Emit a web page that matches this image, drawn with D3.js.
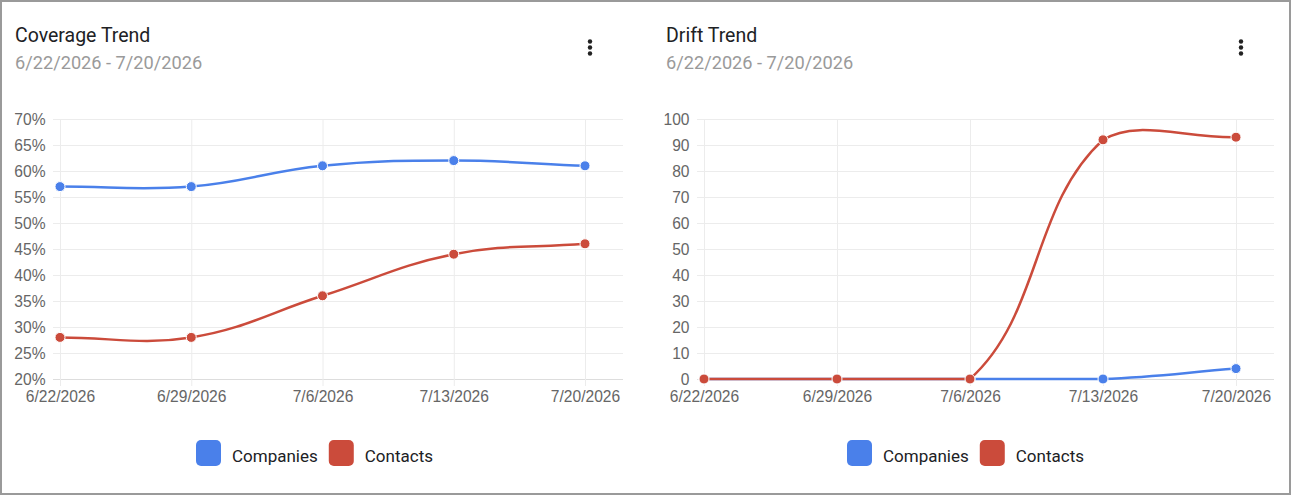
<!DOCTYPE html>
<html>
<head>
<meta charset="utf-8">
<script src="https://cdn.jsdelivr.net/npm/d3@7"></script>
<style>
  html, body { margin: 0; padding: 0; background: #fff; }
  svg { display: block; }
</style>
</head>
<body>
<svg id="chart" width="1292" height="496"></svg>
<script>
const dates = ["6/22/2026", "6/29/2026", "7/6/2026", "7/13/2026", "7/20/2026"];
const coverageCompanies = [57, 57, 61, 62, 61];
const coverageContacts = [28, 28, 36, 44, 46];
const driftCompanies = [0, 0, 0, 0, 4];
const driftContacts = [0, 0, 0, 92, 93];
const coverageTicks = [20, 25, 30, 35, 40, 45, 50, 55, 60, 65, 70];
const driftTicks = [0, 10, 20, 30, 40, 50, 60, 70, 80, 90, 100];
const seriesNames = ["Companies", "Contacts"];
const seriesColors = ["#4a80ea", "#cb4b3b"];

const svg = d3.select("#chart");
svg.append("rect").attr("x", 1).attr("y", 1).attr("width", 1289).attr("height", 493)
  .attr("fill", "#fff").attr("stroke", "#9a9a9a").attr("stroke-width", 2);

const tickFont = "'Liberation Sans', Arial, sans-serif";
const uiFont = "Roboto, 'Noto Sans', sans-serif";

// Chart.js-like spline with tension 0.4, control points capped to chart area
function splinePath(pts, area) {
  const t = 0.4;
  const cps = pts.map((cur, i) => {
    const prev = pts[i - 1] || cur, next = pts[i + 1] || cur;
    const d01 = Math.hypot(cur[0] - prev[0], cur[1] - prev[1]);
    const d12 = Math.hypot(next[0] - cur[0], next[1] - cur[1]);
    let s01 = d01 / (d01 + d12), s12 = d12 / (d01 + d12);
    if (isNaN(s01)) s01 = 0; if (isNaN(s12)) s12 = 0;
    const fa = t * s01, fb = t * s12;
    const cap = (p) => [Math.max(area.left, Math.min(area.right, p[0])), Math.max(area.top, Math.min(area.bottom, p[1]))];
    return {
      prev: cap([cur[0] - fa * (next[0] - prev[0]), cur[1] - fa * (next[1] - prev[1])]),
      next: cap([cur[0] + fb * (next[0] - prev[0]), cur[1] + fb * (next[1] - prev[1])])
    };
  });
  let d = `M${pts[0][0]},${pts[0][1]}`;
  for (let i = 1; i < pts.length; i++) {
    const a = cps[i - 1].next, b = cps[i].prev;
    d += `C${a[0]},${a[1]},${b[0]},${b[1]},${pts[i][0]},${pts[i][1]}`;
  }
  return d;
}

function drawChart(cfg) {
  const g = svg.append("g");
  const area = { left: cfg.left, right: cfg.gridRight, top: 119, bottom: 379 };
  const x = d3.scalePoint().domain(dates).range([cfg.left, cfg.lastX]).padding(0);
  const y = d3.scaleLinear().domain(cfg.domain).range([379, 119]);

  // title + subtitle
  g.append("text").attr("x", cfg.titleX).attr("y", 42).text(cfg.title)
    .attr("font-family", uiFont).attr("font-size", 19.5).attr("fill", "#202124");
  g.append("text").attr("x", cfg.titleX).attr("y", 69).text("6/22/2026 - 7/20/2026")
    .attr("font-family", uiFont).attr("font-size", 18.2).attr("fill", "#9a9a9a");
  // kebab
  [41.5, 47.5, 53.5].forEach(cy => g.append("circle").attr("cx", cfg.menuX).attr("cy", cy).attr("r", 2.2).attr("fill", "#222"));

  // horizontal grid via axis
  const yAxis = d3.axisLeft(y).tickValues(cfg.ticks).tickSize(0).tickPadding(0).tickFormat(cfg.fmt);
  const ya = g.append("g").attr("transform", `translate(${cfg.left},0)`).call(yAxis);
  ya.select(".domain").remove();
  ya.selectAll(".tick line").attr("x1", -7).attr("x2", cfg.gridRight - cfg.left)
    .attr("stroke", (d, i) => i === 0 ? "#dddddd" : "#ececec").attr("stroke-width", 1);
  ya.selectAll(".tick text").attr("x", -14.5).attr("dy", "0.36em")
    .attr("font-family", tickFont).attr("font-size", 15.6).attr("fill", "#666");

  // vertical grid via axis
  const xAxis = d3.axisBottom(x).tickSize(0).tickPadding(0);
  const xa = g.append("g").attr("transform", "translate(0,379)").call(xAxis);
  xa.select(".domain").remove();
  xa.selectAll(".tick line").attr("y1", -260).attr("y2", 7).attr("stroke", "#ececec").attr("stroke-width", 1);
  xa.selectAll(".tick text").attr("y", 23).attr("dy", 0)
    .attr("font-family", tickFont).attr("font-size", 15.6).attr("fill", "#666");

  // series
  cfg.series.forEach((vals, si) => {
    const pts = vals.map((v, i) => [x(dates[i]), y(v)]);
    g.append("path").attr("d", splinePath(pts, area)).attr("fill", "none")
      .attr("stroke", seriesColors[si]).attr("stroke-width", 2.5);
    g.selectAll(null).data(pts).enter().append("circle")
      .attr("cx", d => d[0]).attr("cy", d => d[1]).attr("r", 5)
      .attr("fill", seriesColors[si]).attr("stroke", "#fff").attr("stroke-width", 1);
  });

  // legend
  const lg = g.append("g").attr("transform", `translate(${cfg.legendX},440)`);
  let off = 0;
  seriesNames.forEach((name, i) => {
    lg.append("rect").attr("x", off).attr("y", 0).attr("width", 25).attr("height", 26).attr("rx", 5)
      .attr("fill", seriesColors[i]);
    const tx = lg.append("text").attr("x", off + 36).attr("y", 21.5).text(name)
      .attr("font-family", uiFont).attr("font-size", 17).attr("fill", "#202124");
    off += 36 + tx.node().getComputedTextLength() + 11;
  });
}

drawChart({
  title: "Coverage Trend", titleX: 15, menuX: 590,
  left: 60, lastX: 585, gridRight: 623,
  domain: [20, 70], ticks: coverageTicks, fmt: d => d + "%",
  series: [coverageCompanies, coverageContacts], legendX: 196
});
drawChart({
  title: "Drift Trend", titleX: 666, menuX: 1241,
  left: 704, lastX: 1236, gridRight: 1274,
  domain: [0, 100], ticks: driftTicks, fmt: d => d,
  series: [driftCompanies, driftContacts], legendX: 847
});
</script>
</body>
</html>
